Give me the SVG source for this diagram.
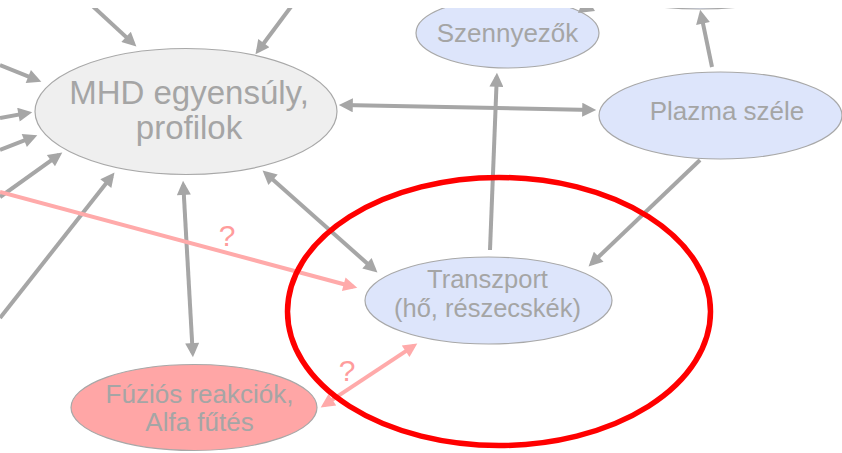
<svg xmlns="http://www.w3.org/2000/svg" width="842" height="453" viewBox="0 0 842 453">
<style>
.g{stroke:#a6a6a6;stroke-width:4;fill:none}
.p{stroke:#ffaaaa;stroke-width:4;fill:none}
.node{stroke:#a8a8a8;stroke-width:1.2}
.t{font-family:"Liberation Sans",Arial,sans-serif;fill:#a5a5a5;text-anchor:middle}
.q{font-family:"Liberation Sans",Arial,sans-serif;fill:#ff9c9c;text-anchor:middle;font-size:30px}
</style>
<defs>
<clipPath id="clip"><rect x="0" y="8" width="842" height="445"/></clipPath>
<marker id="ag" viewBox="0 0 10 10" refX="7" refY="5" markerWidth="18" markerHeight="14" markerUnits="userSpaceOnUse" orient="auto-start-reverse"><path d="M0,0 L10,5 L0,10 z" fill="#a6a6a6"/></marker>
<marker id="ap" viewBox="0 0 10 10" refX="7" refY="5" markerWidth="18" markerHeight="14" markerUnits="userSpaceOnUse" orient="auto-start-reverse"><path d="M0,0 L10,5 L0,10 z" fill="#ffaaaa"/></marker>
</defs>
<rect width="842" height="453" fill="#ffffff"/>
<g clip-path="url(#clip)">
<g id="top-node"><ellipse class="node" cx="700" cy="-30" rx="120" ry="39" fill="#dde5fb"/></g>
<g id="szennyezok"><ellipse class="node" cx="507.5" cy="33" rx="91.5" ry="35" fill="#dde5fb"/><text class="t" x="507.5" y="42" font-size="26">Szennyezők</text></g>
<g id="mhd"><ellipse class="node" cx="186" cy="111.5" rx="151" ry="63" fill="#efefef"/><text class="t" x="189" y="104" font-size="33">MHD egyensúly,</text><text class="t" x="189" y="139" font-size="33">profilok</text></g>
<g id="plazma"><ellipse class="node" cx="720.5" cy="115.5" rx="121.5" ry="43.5" fill="#dde5fb"/><text class="t" x="727" y="120" font-size="26">Plazma széle</text></g>
<g id="transzport"><ellipse class="node" cx="488.5" cy="300.5" rx="123.5" ry="43.5" fill="#dde5fb"/><text class="t" x="487.5" y="288" font-size="25.5">Transzport</text><text class="t" x="487.5" y="317" font-size="25.5">(hő, részecskék)</text></g>
<g id="fuzios"><ellipse class="node" cx="194" cy="407.5" rx="123" ry="43" fill="#ffa6a6"/><text class="t" x="199.5" y="403" font-size="26">Fúziós reakciók,</text><text class="t" x="199.5" y="431" font-size="26">Alfa fűtés</text></g>
<g id="connectors">
<line class="g" x1="86" y1="0" x2="133.3" y2="43.6" marker-end="url(#ag)"/>
<line class="g" x1="296" y1="0" x2="258" y2="51" marker-end="url(#ag)"/>
<line class="g" x1="0" y1="65" x2="37.4" y2="80.1" marker-end="url(#ag)"/>
<line class="g" x1="0" y1="118" x2="28.1" y2="112.9" marker-end="url(#ag)"/>
<line class="g" x1="0" y1="150" x2="33.4" y2="136.8" marker-end="url(#ag)"/>
<line class="g" x1="0" y1="197" x2="58.9" y2="154.9" marker-end="url(#ag)"/>
<line class="g" x1="0" y1="318" x2="111.9" y2="175.9" marker-end="url(#ag)"/>
<line class="g" x1="343" y1="105.1" x2="592" y2="109.9" marker-start="url(#ag)" marker-end="url(#ag)"/>
<line class="g" x1="265.7" y1="173.3" x2="374.3" y2="269.7" marker-start="url(#ag)" marker-end="url(#ag)"/>
<line class="g" x1="183.3" y1="185" x2="192.7" y2="353" marker-start="url(#ag)" marker-end="url(#ag)"/>
<line class="g" x1="490" y1="250" x2="496.8" y2="77" marker-end="url(#ag)"/>
<line class="g" x1="700" y1="160" x2="591.6" y2="263.5" marker-end="url(#ag)"/>
<line class="g" x1="712" y1="67" x2="701" y2="13.9" marker-end="url(#ag)"/>
<polygon points="578,13 595,11 585,-5" fill="#a6a6a6"/>
<line class="p" x1="0" y1="192" x2="353.2" y2="286.7" marker-end="url(#ap)"/>
<line class="p" x1="324.2" y1="405.2" x2="413.8" y2="345.8" marker-start="url(#ap)" marker-end="url(#ap)"/>
<text class="q" x="227" y="246">?</text>
<text class="q" x="347" y="381">?</text>
</g>
<ellipse cx="499" cy="311.5" rx="211.5" ry="134" fill="none" stroke="#ff0000" stroke-width="5.5"/>
</g>
</svg>
